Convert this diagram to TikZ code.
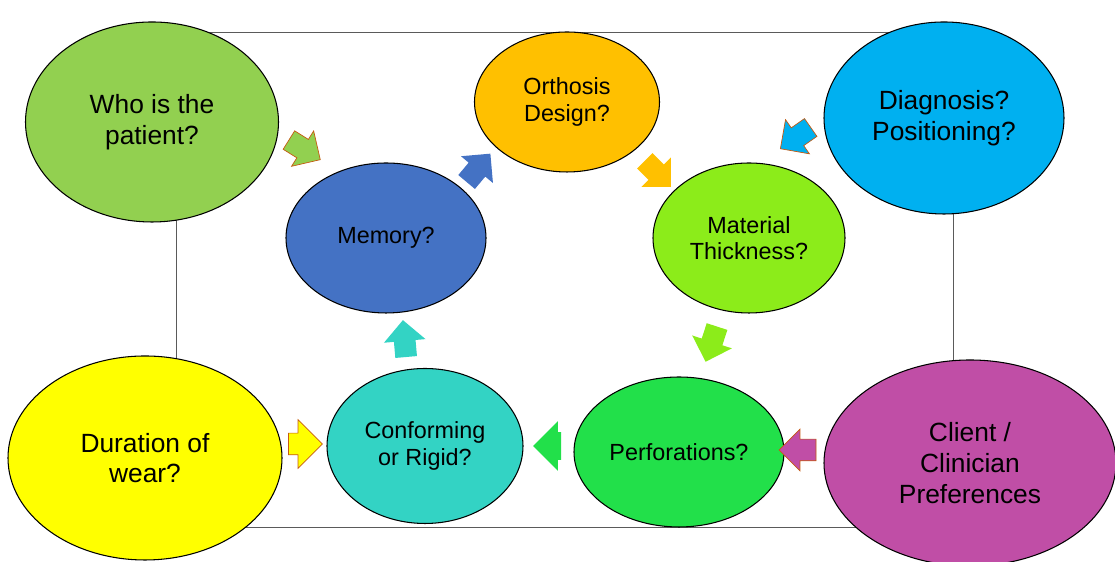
\documentclass[tikz,border=0pt]{standalone}
\usepackage{fontspec}
\setmainfont{Liberation Sans}
\usetikzlibrary{shapes.arrows,shapes.geometric}
\definecolor{bubPatient}{RGB}{146,208,80}
\definecolor{bubDesign}{RGB}{255,192,0}
\definecolor{bubDiag}{RGB}{0,176,240}
\definecolor{bubMemory}{RGB}{68,114,196}
\definecolor{bubThick}{RGB}{140,236,26}
\definecolor{bubWear}{RGB}{255,255,0}
\definecolor{bubConform}{RGB}{51,211,196}
\definecolor{bubPerf}{RGB}{34,224,74}
\definecolor{bubClient}{RGB}{192,78,166}
\definecolor{arrEdge}{RGB}{197,90,17}
\definecolor{frameEdge}{RGB}{90,90,90}

\begin{document}
\begin{tikzpicture}[
    bubble/.style={ellipse, draw=black, semithick, align=center, font=\fontsize{15}{17.5}\selectfont, inner sep=0pt},
    smallbubble/.style={bubble, font=\fontsize{13.3}{15}\selectfont},
    blkarrow/.style={single arrow, minimum height=0.74cm, inner xsep=0pt, inner ysep=0.21cm, single arrow head extend=0.2cm},
    outarrow/.style={blkarrow, draw=arrEdge, thin},
    frame/.style={draw=frameEdge, thin}
]
\useasboundingbox (0,0) rectangle (22.3,11.24);

% --- Frame behind the outer bubbles ---
\coordinate (frameSW) at (3.52,0.7);
\coordinate (frameNE) at (19.06,10.6);
\draw[frame] (frameSW) rectangle (frameNE);

% --- Outer bubbles ---
\node[bubble, fill=bubPatient, minimum width=5.06cm, minimum height=4.0cm] (patient) at (3.04,8.8)
    {Who is the\\patient?};
\node[bubble, fill=bubDiag, minimum width=4.8cm, minimum height=3.84cm] (diag) at (18.88,8.88)
    {Diagnosis?\\Positioning?};
\node[bubble, fill=bubWear, minimum width=5.48cm, minimum height=4.08cm] (wear) at (2.9,2.08)
    {Duration of\\wear?};
\node[bubble, fill=bubClient, minimum width=5.84cm, minimum height=4.12cm] (client) at (19.4,1.98)
    {Client /\\Clinician\\Preferences};

% --- Inner cycle ---
\node[smallbubble, fill=bubDesign, minimum width=3.7cm, minimum height=2.8cm] (design) at (11.34,9.2)
    {Orthosis\\Design?};
\node[smallbubble, fill=bubMemory, minimum width=4.0cm, minimum height=3.0cm] (memory) at (7.72,6.48)
    {Memory?};
\node[smallbubble, fill=bubThick, minimum width=3.84cm, minimum height=3.0cm] (thick) at (14.98,6.48)
    {Material\\Thickness?};
\node[smallbubble, fill=bubConform, minimum width=3.92cm, minimum height=3.1cm] (conform) at (8.5,2.32)
    {Conforming\\or Rigid?};
\node[smallbubble, fill=bubPerf, minimum width=4.2cm, minimum height=3.0cm] (perf) at (13.58,2.2)
    {Perforations?};

% --- Block arrows from outer bubbles ---
\node[outarrow, fill=bubPatient, rotate=-32] (aPatient) at (6.0,8.3) {};
\node[outarrow, fill=bubDiag, rotate=215] (aDiag) at (16.0,8.54) {};
\node[outarrow, fill=bubWear, rotate=0, minimum height=0.68cm, single arrow head extend=0.27cm, inner ysep=0.21cm] (aWear) at (6.0,2.36) {};
\node[outarrow, fill=bubClient, rotate=180] (aClient) at (16.06,2.24) {};

% --- Block arrows of the cycle ---
\node[blkarrow, fill=bubMemory, rotate=50] (aMemory) at (9.5,7.8) {};
\node[blkarrow, fill=bubDesign, rotate=-45] (aDesign) at (13.08,7.84) {};
\node[blkarrow, fill=bubThick, rotate=252] (aThick) at (14.26,4.46) {};
\node[blkarrow, fill=bubPerf, rotate=180, minimum height=0.56cm, single arrow head extend=0.22cm, inner ysep=0.27cm] (aPerf) at (11.08,2.32) {};
\node[blkarrow, fill=bubConform, rotate=95] (aConform) at (8.1,4.36) {};

\end{tikzpicture}
\end{document}
